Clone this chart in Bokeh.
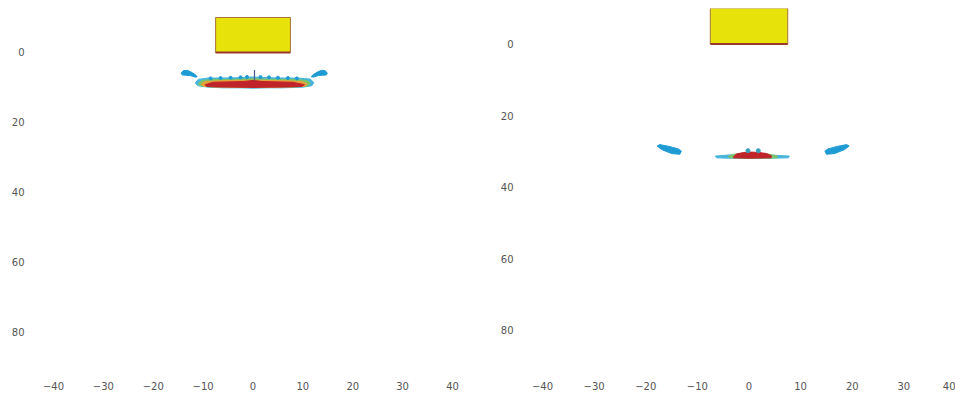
from bokeh.plotting import figure
from bokeh.models import Range1d, FixedTicker
from bokeh.layouts import row
from bokeh.embed import file_html
from bokeh.resources import INLINE

# ---------------- data ----------------
x_ticks = [-40, -30, -20, -10, 0, 10, 20, 30, 40]
y_ticks = [0, 20, 40, 60, 80]

# footing (same for both panels)
footing_x = [-7.5, 7.5]
footing_y = [-10, 0]

# left panel: contour band just below footing
L_outer_x = [-11.6, -11.0, -9.0, -6.0, -3.0, 0.0, 3.0, 6.0, 9.0, 11.5, 12.2, 11.8, 10.0, 6.0, 3.0, 0.0, -3.0, -6.0, -9.0, -11.0]
L_outer_y = [8.8, 7.7, 7.3, 7.3, 7.2, 7.0, 7.2, 7.3, 7.3, 7.6, 8.6, 9.5, 9.9, 10.1, 10.1, 10.2, 10.1, 10.1, 9.9, 9.5]
L_green_x = [-11.0, -10.2, -8.0, -5.0, -2.0, 0.0, 2.0, 5.0, 8.0, 10.8, 11.5, 11.0, 9.0, 5.0, 0.0, -5.0, -9.0, -10.6]
L_green_y = [8.9, 8.0, 7.7, 7.7, 7.6, 7.5, 7.6, 7.7, 7.7, 8.0, 8.8, 9.5, 9.8, 9.9, 10.0, 9.9, 9.8, 9.5]
L_orange_x = [-10.4, -9.5, -7.0, -4.0, 0.0, 4.0, 7.0, 9.8, 10.9, 10.4, 8.0, 4.0, 0.0, -4.0, -8.0, -10.0]
L_orange_y = [9.0, 8.3, 8.1, 8.0, 7.9, 8.0, 8.1, 8.3, 9.0, 9.6, 9.8, 9.9, 10.0, 9.9, 9.8, 9.6]
L_red_x = [-9.6, -8.0, -5.0, -2.0, 0.0, 2.0, 5.0, 8.0, 10.3, 9.8, 7.0, 3.0, 0.0, -3.0, -7.0, -9.3]
L_red_y = [9.2, 8.5, 8.4, 8.3, 8.0, 8.3, 8.4, 8.5, 9.2, 9.7, 9.85, 9.9, 10.0, 9.9, 9.85, 9.7]
L_bump_x = [-8.5, -6.5, -4.5, -2.5, -1.2, 1.5, 3.2, 5.0, 7.0, 8.8]
L_bump_y = [7.4, 7.3, 7.2, 7.1, 7.0, 7.0, 7.1, 7.2, 7.3, 7.4]
L_spike_x = [0.3, 0.3]
L_spike_y = [5.0, 8.0]
L_blobL_x = [-14.4, -14.0, -13.2, -12.4, -11.5, -11.2, -11.7, -12.6, -13.5, -14.2]
L_blobL_y = [5.9, 5.2, 5.1, 5.6, 6.4, 7.0, 7.0, 6.6, 6.5, 6.4]
L_blobR_x = [14.9, 14.5, 13.7, 12.9, 12.0, 11.7, 12.2, 13.1, 14.0, 14.7]
L_blobR_y = [5.9, 5.2, 5.1, 5.6, 6.4, 7.0, 7.0, 6.6, 6.5, 6.4]

# right panel: contour band deeper
R_band_x = [-6.5, -4.0, 0.0, 4.0, 7.8, 7.6, 4.0, 0.0, -4.0, -6.3]
R_band_y = [31.3, 31.0, 30.9, 31.0, 31.3, 31.8, 31.9, 31.9, 31.9, 31.8]
R_fringe_x = [-4.0, -3.0, 0.0, 4.0, 5.5, 5.3, 0.0, -3.8]
R_fringe_y = [31.4, 30.8, 30.4, 30.8, 31.3, 31.8, 31.9, 31.8]
R_red_x = [-3.0, -2.4, -1.0, 0.5, 2.0, 3.4, 4.3, 4.3, 0.0, -3.0]
R_red_y = [31.5, 30.7, 30.3, 30.2, 30.3, 30.6, 31.2, 31.8, 31.9, 31.8]
R_bump_x = [-0.2, 1.8]
R_bump_y = [29.8, 29.8]
R_blobL_x = [-17.8, -17.3, -15.5, -13.7, -13.1, -13.4, -15.0, -16.9]
R_blobL_y = [28.5, 28.1, 28.6, 29.3, 29.9, 30.8, 30.6, 29.5]
R_blobR_x = [19.4, 18.9, 17.1, 15.3, 14.7, 15.0, 16.6, 18.5]
R_blobR_y = [28.5, 28.1, 28.6, 29.3, 29.9, 30.8, 30.6, 29.5]

# colours
C_FOOT = "#e6e20a"
C_FOOT_EDGE = "#a8743a"
C_BLUE = "#1f9bd4"
C_CYAN = "#48b6dc"
C_GREEN = "#7cc36a"
C_ORANGE = "#e8a03a"
C_RED = "#c0232a"


def make_fig(width, border_left, border_right, y_bottom, y_top, standoff):
    p = figure(width=width, height=394, output_backend="svg", toolbar_location=None,
               x_range=Range1d(-40, 40), y_range=Range1d(y_bottom, y_top),
               min_border_left=border_left, min_border_right=border_right,
               min_border_top=8, min_border_bottom=19)
    p.xgrid.visible = False
    p.ygrid.visible = False
    p.outline_line_color = None
    p.background_fill_color = "white"
    p.border_fill_color = "white"
    for ax in (p.xaxis[0], p.yaxis[0]):
        ax.axis_line_color = None
        ax.major_tick_line_color = None
        ax.minor_tick_line_color = None
        ax.major_tick_out = 0
        ax.major_tick_in = 0
        ax.minor_tick_out = 0
        ax.minor_tick_in = 0
        ax.major_label_text_color = "#555555"
        ax.major_label_text_font = "DejaVu Sans"
        ax.major_label_text_font_size = "10px"
    p.xaxis[0].ticker = FixedTicker(ticks=x_ticks)
    p.yaxis[0].ticker = FixedTicker(ticks=y_ticks)
    p.xaxis[0].major_label_standoff = 6
    p.yaxis[0].major_label_standoff = standoff
    # footing
    p.quad(left=footing_x[0], right=footing_x[1], top=footing_y[0], bottom=footing_y[1],
           fill_color=C_FOOT, line_color=C_FOOT_EDGE, line_width=1)
    p.line(x=footing_x, y=[footing_y[1], footing_y[1]], line_color="#9b3a2a", line_width=2)
    return p


# left panel
p1 = make_fig(480, 53, 28, 92.3, -12.57, 29)
p1.patch(L_outer_x, L_outer_y, fill_color=C_CYAN, line_color=C_CYAN)
p1.patch(L_green_x, L_green_y, fill_color=C_GREEN, line_color=C_GREEN)
p1.patch(L_orange_x, L_orange_y, fill_color=C_ORANGE, line_color=C_ORANGE)
p1.patch(L_red_x, L_red_y, fill_color=C_RED, line_color=C_RED)
p1.scatter(L_bump_x, L_bump_y, size=3, color=C_BLUE)
p1.line(L_spike_x, L_spike_y, line_color="#4a5a8a", line_width=1.2)
p1.patch(L_blobL_x, L_blobL_y, fill_color=C_BLUE, line_color=C_BLUE)
p1.patch(L_blobR_x, L_blobR_y, fill_color=C_BLUE, line_color=C_BLUE)

# right panel
p2 = make_fig(475, 62, 0, 92.6, -9.92, 29)
p2.patch(R_band_x, R_band_y, fill_color=C_CYAN, line_color=C_CYAN)
p2.patch(R_fringe_x, R_fringe_y, fill_color=C_GREEN, line_color=C_GREEN)
p2.patch(R_red_x, R_red_y, fill_color=C_RED, line_color=C_RED)
p2.scatter(R_bump_x, R_bump_y, size=4, color="#3a9fb8")
p2.patch(R_blobL_x, R_blobL_y, fill_color=C_BLUE, line_color=C_BLUE)
p2.patch(R_blobR_x, R_blobR_y, fill_color=C_BLUE, line_color=C_BLUE)

layout = row(p1, p2)
open("out.html", "w").write(file_html(layout, INLINE))
